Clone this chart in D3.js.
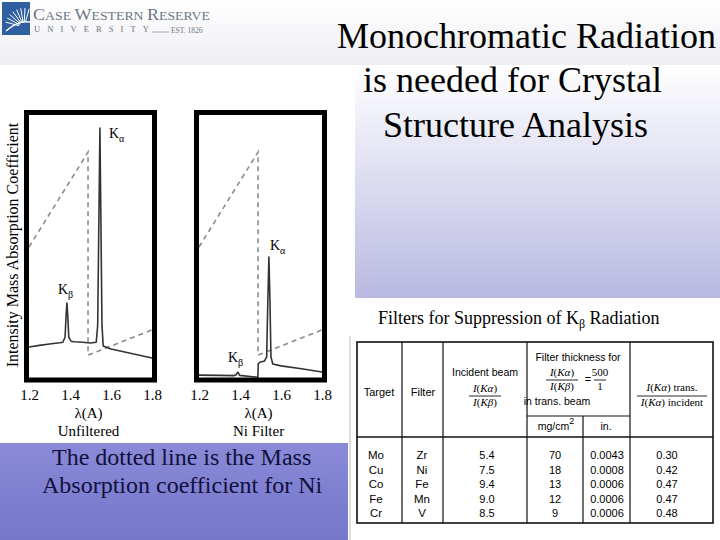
<!DOCTYPE html>
<html lang="en">
<head>
<meta charset="UTF-8">
<title>Monochromatic Radiation</title>
<style>
  body { margin: 0; background: #fff; }
  svg { display: block; }
</style>
<script src="https://cdn.jsdelivr.net/npm/d3@7"></script>
</head>
<body>
<svg id="slide" width="720" height="540"></svg>
<script>
const SERIF = "'Liberation Serif', 'DejaVu Serif', 'Times New Roman', serif";
const SANS = "'Liberation Sans', 'DejaVu Sans', Arial, sans-serif";

const xTicks = [1.2, 1.4, 1.6, 1.8];

// unfiltered Cu spectrum, wavelength in A, intensity in arbitrary units (0-100)
const unfLambda = [1.20, 1.25, 1.30, 1.35, 1.365, 1.376, 1.381, 1.385, 1.389, 1.394, 1.405, 1.42, 1.46, 1.50, 1.528, 1.535, 1.546, 1.556, 1.562, 1.60, 1.70, 1.80];
const unfInt    = [11.8, 12.4, 12.9, 13.4, 13.6, 15.5, 24.0, 28.5, 24.0, 15.5, 14.0, 13.8, 13.6, 13.3, 13.6, 20.0, 95.0, 20.0, 12.2, 11.0, 9.3, 7.6];

// same spectrum after the Ni filter
const niLambda = [1.20, 1.30, 1.37, 1.382, 1.388, 1.392, 1.398, 1.45, 1.487, 1.489, 1.50, 1.52, 1.530, 1.536, 1.541, 1.546, 1.551, 1.56, 1.60, 1.70, 1.80];
const niInt    = [1.1, 1.0, 0.9, 1.2, 2.2, 2.0, 1.0, 0.6, 0.3, 5.5, 6.1, 6.5, 8.0, 30.0, 46.0, 30.0, 8.0, 5.3, 4.6, 3.5, 2.3];

// mass absorption coefficient of Ni (dashed)
const absLambda = [1.20, 1.488, 1.488, 1.80];
const absMu     = [49.8, 85.9, 8.7, 18.3];

// filter table
const targets = ["Mo", "Cu", "Co", "Fe", "Cr"];
const filters = ["Zr", "Ni", "Fe", "Mn", "V"];
const incidentRatio = [5.4, 7.5, 9.4, 9.0, 8.5];
const thicknessMg = [70, 18, 13, 12, 9];
const thicknessIn = [0.0043, 0.0008, 0.0006, 0.0006, 0.0006];
const transRatio = [0.30, 0.42, 0.47, 0.47, 0.48];

const svg = d3.select("#slide");
const defs = svg.append("defs");

function vGrad(id, c0, c1) {
    const g = defs.append("linearGradient").attr("id", id)
        .attr("x1", 0).attr("y1", 0).attr("x2", 0).attr("y2", 1);
    g.append("stop").attr("offset", "0%").attr("stop-color", c0);
    g.append("stop").attr("offset", "100%").attr("stop-color", c1);
}
vGrad("topBand", "#ffffff", "#eeeef3");
vGrad("lavender", "#ffffff", "#b9b9e2");
vGrad("purple", "#8a8ad8", "#7676cb");

// backgrounds
svg.append("rect").attr("x", 0).attr("y", 0).attr("width", 720).attr("height", 65).attr("fill", "url(#topBand)");
svg.append("rect").attr("x", 355).attr("y", 65).attr("width", 365).attr("height", 233).attr("fill", "url(#lavender)");
svg.append("rect").attr("x", 0).attr("y", 443).attr("width", 348).attr("height", 97).attr("fill", "url(#purple)");

// logo
const logo = svg.append("g");
logo.append("rect").attr("x", 2).attr("y", 2).attr("width", 28).attr("height", 33).attr("fill", "#2f5f9e");
d3.range(8).forEach(i => {
    const a = (195 + i * 13) * Math.PI / 180;
    logo.append("line")
        .attr("x1", 24 + 5 * Math.cos(a)).attr("y1", 27 + 5 * Math.sin(a))
        .attr("x2", 24 + 19 * Math.cos(a)).attr("y2", 27 + 19 * Math.sin(a))
        .attr("stroke", "#fff").attr("stroke-width", 1);
});
logo.append("path").attr("d", "M6,31 Q18,20 30,22").attr("fill", "none").attr("stroke", "#fff").attr("stroke-width", 1.5);
const cw = logo.append("text").attr("font-family", SERIF).attr("x", 33).attr("y", 20)
    .attr("fill", "#6b7686").attr("textLength", 177).attr("lengthAdjust", "spacingAndGlyphs");
[["C", 17], ["ASE ", 13], ["W", 17], ["ESTERN ", 13], ["R", 17], ["ESERVE", 13]].forEach(p => {
    cw.append("tspan").attr("font-size", p[1]).text(p[0]);
});
logo.append("text").attr("font-family", SERIF).attr("x", 34).attr("y", 32).attr("font-size", 8.5)
    .attr("fill", "#6b7686").attr("textLength", 115).attr("lengthAdjust", "spacing").text("UNIVERSITY");
logo.append("line").attr("x1", 152).attr("x2", 169).attr("y1", 32).attr("y2", 32).attr("stroke", "#8a93a0").attr("stroke-width", 0.8);
logo.append("text").attr("font-family", SERIF).attr("x", 171).attr("y", 33).attr("font-size", 7.5)
    .attr("fill", "#6b7686").text("EST. 1826");

// title
const titleLines = [["Monochromatic Radiation", 337, 48], ["is needed for Crystal", 363, 92], ["Structure Analysis", 383, 137]];
svg.selectAll(".title").data(titleLines).enter().append("text")
    .attr("class", "title").attr("font-family", SERIF).attr("x", d => d[1]).attr("y", d => d[2])
    .attr("font-size", 36).attr("fill", "#000").text(d => d[0]);

// spectra
const y = d3.scaleLinear().domain([0, 100]).range([378, 115]);

const panels = [
    { x0: 29, x1: 152, lam: unfLambda, val: unfInt, caption: "Unfiltered",
      marks: [{ l: 1.546, v: 95, dx: 9, dy: 10, s: "α" }, { l: 1.385, v: 28.5, dx: -9, dy: -9, s: "β" }] },
    { x0: 199, x1: 322, lam: niLambda, val: niInt, caption: "Ni Filter",
      marks: [{ l: 1.541, v: 46, dx: 1, dy: -7, s: "α" }, { l: 1.390, v: 2.2, dx: -10, dy: -10, s: "β" }] }
];

panels.forEach(p => {
    const x = d3.scaleLinear().domain([1.2, 1.8]).range([p.x0, p.x1]);
    const g = svg.append("g");
    const line = d3.line().x(d => x(d[0])).y(d => y(d[1]));

    g.append("path").datum(d3.zip(absLambda, absMu)).attr("d", line)
        .attr("fill", "none").attr("stroke", "#8c8c8c").attr("stroke-width", 1.6).attr("stroke-dasharray", "5,4");
    g.append("path").datum(d3.zip(p.lam, p.val)).attr("d", line)
        .attr("fill", "none").attr("stroke", "#333").attr("stroke-width", 1.6).attr("stroke-linejoin", "round");

    g.append("rect").attr("x", p.x0 - 2.5).attr("y", 112.5)
        .attr("width", p.x1 - p.x0 + 5).attr("height", 267.5)
        .attr("fill", "none").attr("stroke", "#000").attr("stroke-width", 5);

    const ax = g.append("g").attr("transform", "translate(0,382)")
        .call(d3.axisBottom(x).tickValues(xTicks).tickSize(0).tickPadding(7).tickFormat(d3.format(".1f")));
    ax.select(".domain").remove();
    ax.selectAll("text").attr("font-family", SERIF).attr("font-size", 15).attr("fill", "#000");

    const mid = (p.x0 + p.x1) / 2 - 2;
    g.append("text").attr("font-family", SERIF).attr("x", mid).attr("y", 418).attr("text-anchor", "middle")
        .attr("font-size", 15).text("λ(A)");
    g.append("text").attr("font-family", SERIF).attr("x", mid).attr("y", 436).attr("text-anchor", "middle")
        .attr("font-size", 15).text(p.caption);

    p.marks.forEach(m => {
        const t = g.append("text").attr("font-family", SERIF).attr("x", x(m.l) + m.dx).attr("y", y(m.v) + m.dy)
            .attr("font-size", 14).attr("fill", "#000");
        t.append("tspan").text("K");
        t.append("tspan").attr("font-size", 10).attr("dy", 4).text(m.s);
    });
});

svg.append("text").attr("font-family", SERIF)
    .attr("transform", "translate(18,245) rotate(-90)").attr("text-anchor", "middle")
    .attr("font-size", 16).attr("fill", "#000").text("Intensity Mass Absorption Coefficient");

// bottom note
svg.selectAll(".note").data([["The dotted line is the Mass", 52, 465], ["Absorption coefficient for Ni", 42, 493]])
    .enter().append("text").attr("class", "note").attr("font-family", SERIF).attr("x", d => d[1]).attr("y", d => d[2])
    .attr("font-size", 24).attr("fill", "#10103c").text(d => d[0]);

// table caption
const cap = svg.append("text").attr("font-family", SERIF).attr("x", 378).attr("y", 324).attr("font-size", 18).attr("fill", "#000");
cap.append("tspan").text("Filters for Suppression of K");
cap.append("tspan").attr("font-size", 12).attr("dy", 4).text("β");
cap.append("tspan").attr("dy", -4).text(" Radiation");

// table
const tb = svg.append("g").attr("fill", "#000");
tb.append("rect").attr("x", 357).attr("y", 342).attr("width", 356).attr("height", 181)
    .attr("fill", "none").attr("stroke", "#111").attr("stroke-width", 1.6);
[402, 443, 527, 630].forEach(cx => {
    tb.append("line").attr("x1", cx).attr("x2", cx).attr("y1", 342).attr("y2", 523).attr("stroke", "#111").attr("stroke-width", 1.2);
});
tb.append("line").attr("x1", 583).attr("x2", 583).attr("y1", 416).attr("y2", 523).attr("stroke", "#111").attr("stroke-width", 1.2);
tb.append("line").attr("x1", 527).attr("x2", 630).attr("y1", 416).attr("y2", 416).attr("stroke", "#111").attr("stroke-width", 1.2);
tb.append("line").attr("x1", 357).attr("x2", 713).attr("y1", 437).attr("y2", 437).attr("stroke", "#111").attr("stroke-width", 1.6);
tb.append("line").attr("x1", 350).attr("x2", 350).attr("y1", 336).attr("y2", 540).attr("stroke", "#bbb").attr("stroke-width", 1);

function sansText(x, yy, s, size, anchor) {
    return tb.append("text").attr("font-family", SANS).attr("x", x).attr("y", yy)
        .attr("font-size", size || 10.5).attr("text-anchor", anchor || "middle").text(s);
}
function italicParts(t, parts) {
    parts.forEach(pt => t.append("tspan").attr("font-style", pt[1] ? "italic" : "normal").text(pt[0]));
}
function frac(x, yNum, yBar, yDen, w, num, den) {
    [[yNum, num], [yDen, den]].forEach(([yy, parts]) => {
        const t = tb.append("text").attr("font-family", SERIF).attr("x", x).attr("y", yy)
            .attr("text-anchor", "middle").attr("font-size", 11);
        italicParts(t, parts);
    });
    tb.append("line").attr("x1", x - w / 2).attr("x2", x + w / 2).attr("y1", yBar).attr("y2", yBar)
        .attr("stroke", "#111").attr("stroke-width", 0.9);
}
const iKa = [["I", 1], ["(", 0], ["Kα", 1], [")", 0]];
const iKb = [["I", 1], ["(", 0], ["Kβ", 1], [")", 0]];

sansText(379, 396, "Target", 11);
sansText(423, 396, "Filter", 11);
sansText(485, 376, "Incident beam", 10.5);
frac(485, 392, 396, 406, 32, iKa, iKb);
sansText(578, 361, "Filter thickness for", 10.5);
frac(562, 376, 380, 390, 32, iKa, iKb);
sansText(588, 383, "=", 11);
frac(600, 376, 380, 390, 12, [["500", 0]], [["1", 0]]);
sansText(557, 405, "in trans. beam", 10.5);
const mg = sansText(556, 430, "mg/cm", 10.5);
mg.append("tspan").attr("dy", -6).attr("font-size", 9).text("2");
sansText(606, 430, "in.", 10.5);
const lastHead = tb.append("text").attr("font-family", SERIF).attr("x", 672).attr("y", 391).attr("text-anchor", "middle").attr("font-size", 11);
italicParts(lastHead, [["I", 1], ["(", 0], ["Kα", 1], [")", 0], [" trans.", 0]]);
const lastDen = tb.append("text").attr("font-family", SERIF).attr("x", 672).attr("y", 406).attr("text-anchor", "middle").attr("font-size", 11);
italicParts(lastDen, [["I", 1], ["(", 0], ["Kα", 1], [")", 0], [" incident", 0]]);
tb.append("line").attr("x1", 637).attr("x2", 707).attr("y1", 396).attr("y2", 396).attr("stroke", "#111").attr("stroke-width", 0.9);

const rowY = d3.scalePoint().domain(targets).range([459, 517]);
targets.forEach((t, i) => {
    const yy = rowY(t);
    sansText(376, yy, t, 11.5);
    sansText(422, yy, filters[i], 11.5);
    sansText(487, yy, incidentRatio[i].toFixed(1), 11);
    sansText(555, yy, String(thicknessMg[i]), 11);
    sansText(607, yy, thicknessIn[i].toFixed(4), 11);
    sansText(667, yy, transRatio[i].toFixed(2), 11);
});
</script>
</body>
</html>
